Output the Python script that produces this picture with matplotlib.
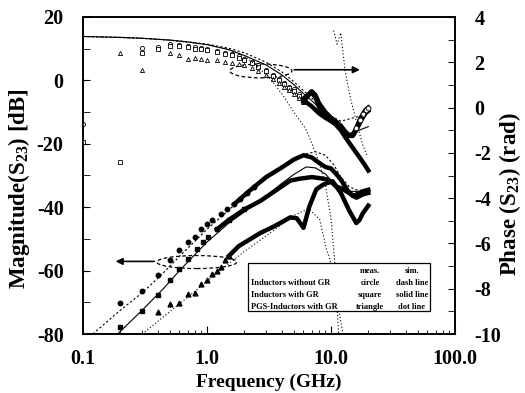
import numpy as np
import matplotlib.pyplot as plt
from matplotlib.patches import Ellipse, Rectangle
from matplotlib.ticker import MultipleLocator, LogLocator, NullFormatter

# ---- magnitude, measured (filled markers, thick where points get dense)
f_mag_circ = [0.2, 0.3, 0.4, 0.5, 0.6, 0.7, 0.8, 0.9, 1.0, 1.1, 1.3, 1.45, 1.65, 1.85, 2.1, 2.4,
              3.0, 4.0, 5.0, 6.0, 7.0, 8.0, 9.0, 10.0, 11.0, 12.0, 13.5, 15.0, 16.0, 18.0, 20.0]
mag_circ = [-70.1, -66.5, -61.5, -56.8, -53.6, -51.0, -49.3, -46.8, -45.4, -44.1, -42.3, -40.5, -39.1, -37.4, -35.5, -33.6,
            -30.5, -27.5, -25.0, -23.6, -24.3, -26.0, -27.3, -27.8, -29.5, -31.3, -34.5, -36.5, -36.0, -35.0, -34.5]
f_mag_sq = [0.2, 0.3, 0.4, 0.5, 0.6, 0.7, 0.83, 0.92, 1.02, 1.2, 1.5, 2.0, 2.7, 3.5, 4.7, 5.6,
            7.0, 8.0, 9.2, 10.0, 11.0, 12.0, 14.0, 16.0, 18.0, 20.0]
mag_sq = [-77.7, -72.6, -67.6, -63.0, -59.5, -56.2, -53.3, -51.0, -49.3, -47.0, -44.0, -40.7, -38.0, -35.0, -31.6, -31.0,
          -30.5, -30.8, -31.2, -32.0, -33.5, -34.0, -35.5, -37.0, -36.0, -35.5]
f_mag_tri = [0.4, 0.5, 0.6, 0.7, 0.8, 0.9, 1.0, 1.1, 1.2, 1.3, 1.4, 1.5, 1.8, 2.7, 3.5, 4.7, 5.3, 6.0,
             6.7, 7.6, 8.7, 10.3, 12.0, 14.0, 16.0, 17.0, 18.0, 20.0]
mag_tri = [-73.1, -70.6, -70.1, -67.5, -67.0, -64.3, -63.0, -61.2, -60.2, -58.8, -56.8, -55.4, -52.3, -48.1, -46.0, -43.2, -43.5, -46.5,
           -39.7, -34.4, -32.8, -31.8, -35.5, -41.0, -45.0, -44.0, -42.0, -39.5]

# ---- magnitude, simulated
sf_mag_circ = [0.12, 0.2, 0.3, 0.42, 0.6, 1.0, 2.0, 3.0, 4.0, 5.0, 6.0, 7.5, 9.0, 10.5, 12.0, 14.0, 16.0, 20.0]
smag_circ = [-80, -72.5, -67, -61.7, -55.5, -47, -36.5, -31, -27.5, -25, -23.4, -22.5, -23.6, -26.5, -30.5, -33.5, -34.5, -35]
sf_mag_sq = [0.19, 0.3, 0.45, 0.6, 1.0, 1.5, 2.0, 3.0, 4.0, 5.0, 6.3, 7.5, 9.0, 10.0, 12.0, 14.0, 17.0, 20.0]
smag_sq = [-80, -72.5, -65.5, -60, -51, -45, -41.5, -36.5, -32.5, -29.7, -27.3, -27.6, -29.5, -31.5, -34, -35, -35, -35]
sf_mag_tri = [0.3, 0.5, 0.8, 1.27, 2.0, 3.0, 4.0, 4.9, 6.0, 6.7, 8.1, 8.7, 9.2, 9.8, 11.0, 12.5]
smag_tri = [-80, -73, -66.5, -60, -54, -49, -45.5, -42.8, -41.2, -40.7, -43.9, -49.1, -53.3, -56.5, -68, -80]

# ---- phase, measured (open markers at low f, thick lines above 6 GHz)
f_ph_circ = [0.1, 0.3, 0.4, 0.5, 0.6, 0.7, 0.8, 0.9, 1.0, 1.2, 1.4, 1.6, 1.8, 2.0, 2.3, 2.6, 3.0, 3.4, 3.8, 4.2, 4.6, 5.0, 5.5, 6.0]
ph_circ = [-0.74, 2.64, 2.68, 2.8, 2.76, 2.7, 2.66, 2.62, 2.58, 2.5, 2.43, 2.35, 2.26, 2.16, 2.02, 1.88, 1.66, 1.46, 1.26, 1.08, 0.92, 0.8, 0.6, 0.4]
f_ph_sq = [0.1, 0.2, 0.3, 0.4, 0.5, 0.6, 0.7, 0.8, 0.9, 1.0, 1.2, 1.4, 1.6, 1.8, 2.0, 2.3, 2.6, 3.0, 3.4, 3.8, 4.2, 4.6, 5.0, 5.5, 6.0]
ph_sq = [-1.53, -2.41, 2.4, 2.6, 2.72, 2.7, 2.66, 2.6, 2.57, 2.54, 2.46, 2.38, 2.3, 2.2, 2.1, 1.96, 1.8, 1.6, 1.4, 1.2, 1.02, 0.86, 0.72, 0.52, 0.33]
f_ph_tri = [0.2, 0.3, 0.5, 0.6, 0.7, 0.8, 0.9, 1.0, 1.2, 1.4, 1.6, 1.8, 2.0, 2.3, 2.6, 3.0, 3.4, 3.8, 4.2, 4.6, 5.0, 5.5, 6.0]
ph_tri = [2.42, 1.65, 2.39, 2.3, 2.15, 2.17, 2.13, 2.12, 2.08, 2.02, 1.97, 1.92, 1.86, 1.76, 1.62, 1.45, 1.27, 1.1, 0.93, 0.76, 0.6, 0.42, 0.25]

fh_ph_circ = [6.0, 6.5, 7.0, 7.5, 8.0, 9.0, 10.0, 11.0, 12.0, 13.0, 14.0, 15.0, 16.0, 17.0, 18.0, 19.0, 20.0]
phh_circ = [0.4, 0.55, 0.72, 0.55, 0.2, -0.2, -0.45, -0.62, -0.8, -1.05, -1.22, -1.2, -0.9, -0.55, -0.3, -0.1, 0.0]
fh_ph_sq = [6.0, 7.0, 8.0, 9.0, 10.0, 11.0, 12.0, 13.0, 14.0, 15.0, 16.0, 17.0, 18.0, 19.0, 20.0]
phh_sq = [0.33, 0.05, -0.25, -0.45, -0.6, -0.75, -0.95, -1.1, -1.25, -1.25, -1.0, -0.7, -0.45, -0.25, -0.15]
fh_ph_tri = [6.0, 6.5, 6.9, 7.5, 8.2, 9.0, 10.5, 12.0, 13.0, 14.0, 15.5, 17.0, 18.4, 20.0]
phh_tri = [0.25, 0.5, 0.69, 0.45, -0.12, -0.35, -0.64, -1.0, -1.3, -1.55, -1.89, -2.2, -2.47, -2.78]

# ---- phase, simulated
sf_ph = [0.1, 0.2, 0.3, 0.5, 0.7, 1.0, 1.5, 2.0, 3.0, 4.0, 5.0, 6.0, 7.0, 8.0, 9.0, 10.0, 12.0, 13.0, 16.0, 20.0]
sph_circ = [3.14, 3.1, 3.06, 2.98, 2.9, 2.8, 2.62, 2.42, 2.0, 1.58, 1.15, 0.75, 0.42, 0.12, -0.15, -0.38, -0.6, -0.55, -0.42, -0.3]
sph_sq = [3.14, 3.1, 3.06, 2.98, 2.9, 2.78, 2.56, 2.3, 1.88, 1.45, 1.02, 0.62, 0.3, 0.0, -0.3, -0.55, -0.95, -1.2, -1.05, -0.84]
sf_ph_tri = [0.1, 0.3, 0.5, 1.0, 1.5, 2.0, 2.5, 3.3, 4.2, 5.3, 6.2, 7.0, 8.0, 9.0, 10.0, 10.8, 11.5]
sph_tri = [3.14, 3.06, 2.98, 2.78, 2.55, 2.3, 1.85, 1.23, 0.45, -0.39, -0.9, -1.57, -2.4, -3.4, -4.9, -7.0, -10.0]
sf_ph_tri2 = [10.5, 11.2, 12.0, 13.0, 14.5, 16.0, 18.0, 19.7]
sph_tri2 = [3.4, 2.8, 3.3, 1.6, 0.3, -0.6, -1.65, -2.16]

legend_rows = ['Inductors without GR', 'Inductors with GR', 'PGS-Inductors with GR']
legend_meas = ['circle', 'square', 'triangle']
legend_sim = ['dash line', 'solid line', 'dot line']

plt.rcParams['font.family'] = 'Liberation Serif'
plt.rcParams['font.weight'] = 'bold'
plt.rcParams['axes.labelweight'] = 'bold'
plt.rcParams['axes.unicode_minus'] = False
plt.rcParams['mathtext.fontset'] = 'custom'
plt.rcParams['mathtext.rm'] = 'Liberation Serif:bold'
plt.rcParams['mathtext.it'] = 'Liberation Serif:bold'
plt.rcParams['mathtext.bf'] = 'Liberation Serif:bold'

fig = plt.figure(figsize=(5.25, 3.93), dpi=100)
ax = fig.add_axes([83/525, 1-334/393, 372/525, 317/393])
ax2 = ax.twinx()

k = dict(color='black')
thick = 3.2
thin = 0.8

# magnitude measured
ax.plot(f_mag_circ[:16], mag_circ[:16], 'o', ms=3.2, **k)
ax.plot(f_mag_circ[12:], mag_circ[12:], '-', lw=thick, **k)
ax.plot(f_mag_sq[:12], mag_sq[:12], 's', ms=3.2, **k)
ax.plot(f_mag_sq[9:], mag_sq[9:], '-', lw=thick, **k)
ax.plot(f_mag_tri[:12], mag_tri[:12], '^', ms=3.5, **k)
ax.plot(f_mag_tri[11:], mag_tri[11:], '-', lw=thick, **k)
# magnitude simulated
ax.plot(sf_mag_circ, smag_circ, lw=thin, ls=(0, (2, 2)), **k)
ax.plot(sf_mag_sq, smag_sq, lw=thin, ls='-', **k)
ax.plot(sf_mag_tri, smag_tri, lw=thin, ls=(0, (1, 2)), **k)

# phase measured
ax2.plot(f_ph_circ, ph_circ, 'o', ms=3.0, mfc='white', mew=0.6, **k)
ax2.plot(f_ph_sq, ph_sq, 's', ms=3.0, mfc='white', mew=0.6, **k)
ax2.plot(f_ph_tri, ph_tri, '^', ms=3.0, mfc='white', mew=0.6, **k)
ax2.plot(fh_ph_circ, phh_circ, '-', lw=thick, **k)
ax2.plot(fh_ph_sq, phh_sq, '-', lw=thick, **k)
ax2.plot(fh_ph_tri, phh_tri, '-', lw=thick, **k)
ax2.plot(fh_ph_circ[12:], phh_circ[12:], 'o', ms=3.5, mfc='white', mew=0.6, **k)
# phase simulated
ax2.plot(sf_ph, sph_circ, lw=thin, ls=(0, (2, 2)), **k)
ax2.plot(sf_ph, sph_sq, lw=thin, ls='-', **k)
ax2.plot(sf_ph_tri, sph_tri, lw=thin, ls=(0, (1, 2)), **k)
ax2.plot(sf_ph_tri2, sph_tri2, lw=thin, ls=(0, (1, 2)), **k)

# axes
ax.set_xscale('log')
ax.set_xlim(0.1, 100)
ax.set_ylim(-80, 20)
ax2.set_ylim(-10, 4)
ax.set_xticks([0.1, 1, 10, 100])
ax.set_xticklabels(['0.1', '1.0', '10.0', '100.0'])
ax.xaxis.set_minor_locator(LogLocator(base=10, subs=np.arange(2, 10)))
ax.xaxis.set_minor_formatter(NullFormatter())
ax.yaxis.set_major_locator(MultipleLocator(20))
ax.yaxis.set_minor_locator(MultipleLocator(10))
ax2.yaxis.set_major_locator(MultipleLocator(2))
ax2.yaxis.set_minor_locator(MultipleLocator(1))

ax.tick_params(which='both', direction='in', labelsize=14.5)
ax.tick_params(axis='x', which='major', length=6, pad=11)
ax.tick_params(axis='x', which='minor', length=3)
ax.tick_params(axis='y', which='major', length=5, pad=14)
ax.tick_params(axis='y', which='minor', length=5)
ax2.tick_params(which='both', direction='in', labelsize=14.5)
ax2.tick_params(which='major', length=5, pad=14)
ax2.tick_params(which='minor', length=5)
for a in (ax, ax2):
    for s in a.spines.values():
        s.set_linewidth(1.2)
    for t in a.get_xticklabels() + a.get_yticklabels():
        t.set_fontweight('bold')

ax.set_xlabel('Frequency (GHz)', fontsize=14, fontweight='bold', labelpad=3)
ax.set_ylabel('Magnitude(S$_{23}$) [dB]', fontsize=16.5, fontweight='bold')
ax2.set_ylabel('Phase (S$_{23}$) (rad)', fontsize=16.5, fontweight='bold')
ax.yaxis.set_label_coords(-0.137, 0.46)
ax2.yaxis.set_label_coords(1.113, 0.44)

# dashed ellipses and arrows
ax2.add_patch(Ellipse((0.478, 0.830), 0.167, 0.044, transform=ax.transAxes, fill=False,
                      ls=(0, (3, 2)), lw=0.9, ec='black'))
ax2.add_patch(Ellipse((0.306, 0.227), 0.215, 0.041, transform=ax.transAxes, fill=False,
                      ls=(0, (3, 2)), lw=0.9, ec='black'))
ax2.annotate('', xy=(18, 1.67), xytext=(4.8, 1.67),
             arrowprops=dict(arrowstyle='-|>', color='black', lw=1.2, mutation_scale=10))
ax.annotate('', xy=(0.174, -57.1), xytext=(0.395, -57.1),
            arrowprops=dict(arrowstyle='-|>', color='black', lw=1.2, mutation_scale=10))

# table-like legend
ax2.add_patch(Rectangle((0.444, 0.073), 0.489, 0.151, transform=ax.transAxes,
                        fc='white', ec='black', lw=0.9, zorder=5))
fs = 6
ax2.text(0.772, 0.199, 'meas.', transform=ax.transAxes, fontsize=fs, fontweight='bold', ha='center', va='center', zorder=6)
ax2.text(0.884, 0.199, 'sim.', transform=ax.transAxes, fontsize=fs, fontweight='bold', ha='center', va='center', zorder=6)
for i in range(3):
    yy = 0.161 - i*0.038
    ax2.text(0.452, yy, legend_rows[i], transform=ax.transAxes, fontsize=fs, fontweight='bold', ha='left', va='center', zorder=6)
    ax2.text(0.772, yy, legend_meas[i], transform=ax.transAxes, fontsize=fs, fontweight='bold', ha='center', va='center', zorder=6)
    ax2.text(0.884, yy, legend_sim[i], transform=ax.transAxes, fontsize=fs, fontweight='bold', ha='center', va='center', zorder=6)

fig.savefig('out.png', dpi=100)
